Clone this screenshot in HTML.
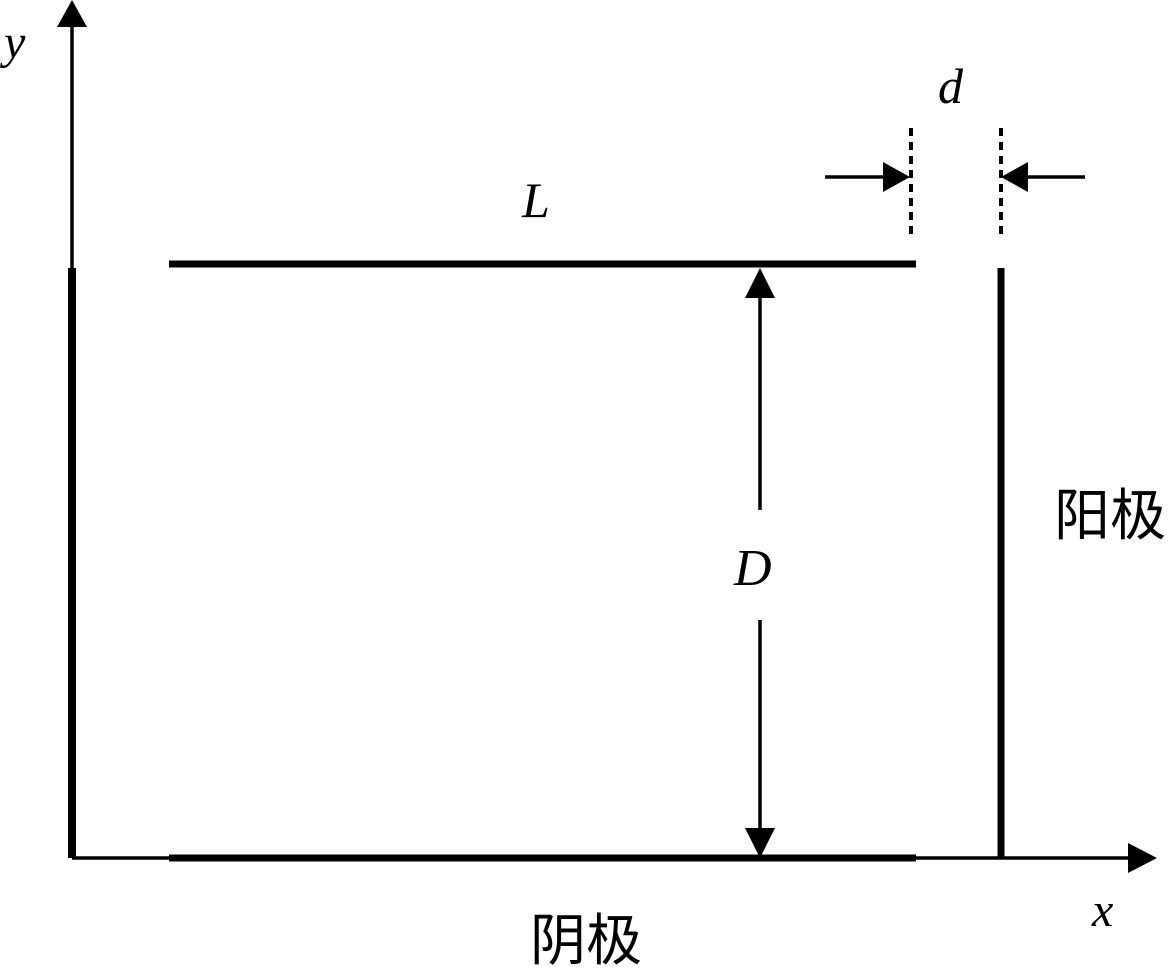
<!DOCTYPE html>
<html><head><meta charset="utf-8"><style>
html,body{margin:0;padding:0;background:#fff;}
svg{display:block}
text{font-family:"Liberation Serif",serif;font-style:italic;fill:#000}
.cjk{font-family:"Liberation Sans","Noto Sans CJK SC",sans-serif;font-style:normal}
</style></head><body>
<svg width="1170" height="976" viewBox="0 0 1170 976">
<g stroke="#000" fill="none">
<line x1="72" y1="858" x2="72" y2="25" stroke-width="3.5"/>
<line x1="72" y1="858" x2="1130" y2="858" stroke-width="3.5"/>
<line x1="72" y1="268" x2="72" y2="858" stroke-width="8"/>
<line x1="169" y1="264" x2="916" y2="264" stroke-width="7"/>
<line x1="169" y1="858" x2="916" y2="858" stroke-width="7"/>
<line x1="1001" y1="268" x2="1001" y2="858" stroke-width="7"/>
<line x1="760" y1="295" x2="760" y2="510" stroke-width="3.5"/>
<line x1="760" y1="620" x2="760" y2="832" stroke-width="3.5"/>
<line x1="911" y1="128" x2="911" y2="234" stroke-width="4" stroke-dasharray="8,6"/>
<line x1="1001" y1="128" x2="1001" y2="234" stroke-width="4" stroke-dasharray="8,6"/>
<line x1="825" y1="177" x2="886" y2="177" stroke-width="3.5"/>
<line x1="1026" y1="177" x2="1085" y2="177" stroke-width="3.5"/>
</g>
<g fill="#000">
<polygon points="72,0 57,27 87,27"/>
<polygon points="1157,858 1128,843 1128,873"/>
<polygon points="760,268 745,298 775,298"/>
<polygon points="760,858 745,828 775,828"/>
<polygon points="910,177 883,162 883,192"/>
<polygon points="1001,177 1028,162 1028,192"/>
</g>
<text x="4" y="58" font-size="48">y</text>
<text x="522" y="217" font-size="50">L</text>
<text x="938" y="103" font-size="50">d</text>
<text x="734" y="585" font-size="52">D</text>
<text x="1092" y="926" font-size="48">x</text>
<text x="1054" y="535" font-size="56" class="cjk">阳极</text>
<text x="530" y="960" font-size="56" class="cjk">阴极</text>
</svg>
</body></html>
